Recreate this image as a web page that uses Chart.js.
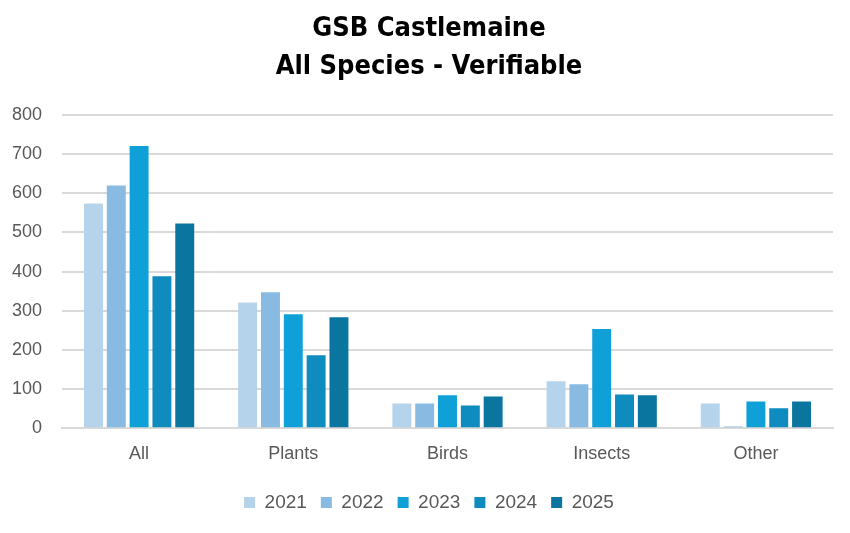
<!DOCTYPE html>
<html>
<head>
<meta charset="utf-8">
<script src="https://cdn.jsdelivr.net/npm/chart.js@4"></script>
<style>
html,body{margin:0;padding:0;background:#fff;}
#wrap{width:850px;height:533px;position:relative;}
</style>
</head>
<body>
<div id="wrap"><canvas id="c" width="850" height="533"></canvas></div>
<script>
const categories = ["All", "Plants", "Birds", "Insects", "Other"];
const years = ["2021", "2022", "2023", "2024", "2025"];
const v2021 = [574, 321, 63, 120, 63];
const v2022 = [620, 347, 63, 112, 4];
const v2023 = [721, 291, 84, 253, 68];
const v2024 = [388, 186, 58, 86, 51];
const v2025 = [523, 283, 81, 84, 68];
const yTicks = [0, 100, 200, 300, 400, 500, 600, 700, 800];
const colors = ["#B5D3EA", "#88BAE2", "#10A0D8", "#0E8BBF", "#0A76A0"];
const series = [v2021, v2022, v2023, v2024, v2025];

const ctx = document.getElementById('c');
new Chart(ctx, {
  type: 'bar',
  data: {
    labels: categories,
    datasets: series.map((s, i) => ({
      label: years[i],
      data: s,
      backgroundColor: colors[i],
      borderWidth: 0,
      categoryPercentage: 0.74,
      barPercentage: 0.83
    }))
  },
  options: {
    responsive: false,
    animation: false,
    devicePixelRatio: 1,
    layout: { padding: { left: 8, right: 0, top: 9, bottom: 11 } },
    plugins: {
      title: {
        display: true,
        text: ["GSB Castlemaine", "All Species - Verifiable"],
        color: "#000",
        font: { family: "'DejaVu Sans Condensed', 'Liberation Sans', sans-serif", size: 27, weight: 'bold', lineHeight: 1.444 },
        padding: { top: 0, bottom: 28 }
      },
      legend: {
        position: 'bottom',
        labels: {
          color: "#595959",
          font: { family: "'Liberation Sans', Arial, sans-serif", size: 19 },
          boxWidth: 11,
          boxHeight: 11,
          padding: 14
        }
      },
      tooltip: { enabled: false }
    },
    scales: {
      x: {
        grid: { display: false, drawTicks: false },
        border: { color: "#D9D9D9", width: 2 },
        ticks: { color: "#595959", font: { family: "'Liberation Sans', Arial, sans-serif", size: 18, lineHeight: 0.27 }, padding: 23 }
      },
      y: {
        min: 0, max: 800,
        afterBuildTicks: (axis) => { axis.ticks = yTicks.map(v => ({ value: v })); },
        afterFit: (axis) => { axis.width = 54; },
        grid: { color: "#D9D9D9", lineWidth: 2, drawTicks: false },
        border: { display: false },
        ticks: { color: "#595959", font: { family: "'Liberation Sans', Arial, sans-serif", size: 18 }, padding: 20 }
      },
      yRight: {
        position: 'right',
        display: true,
        afterFit: (axis) => { axis.width = 17; },
        grid: { display: false, drawTicks: false },
        border: { display: false },
        ticks: { display: false }
      }
    }
  }
});
</script>
</body>
</html>
